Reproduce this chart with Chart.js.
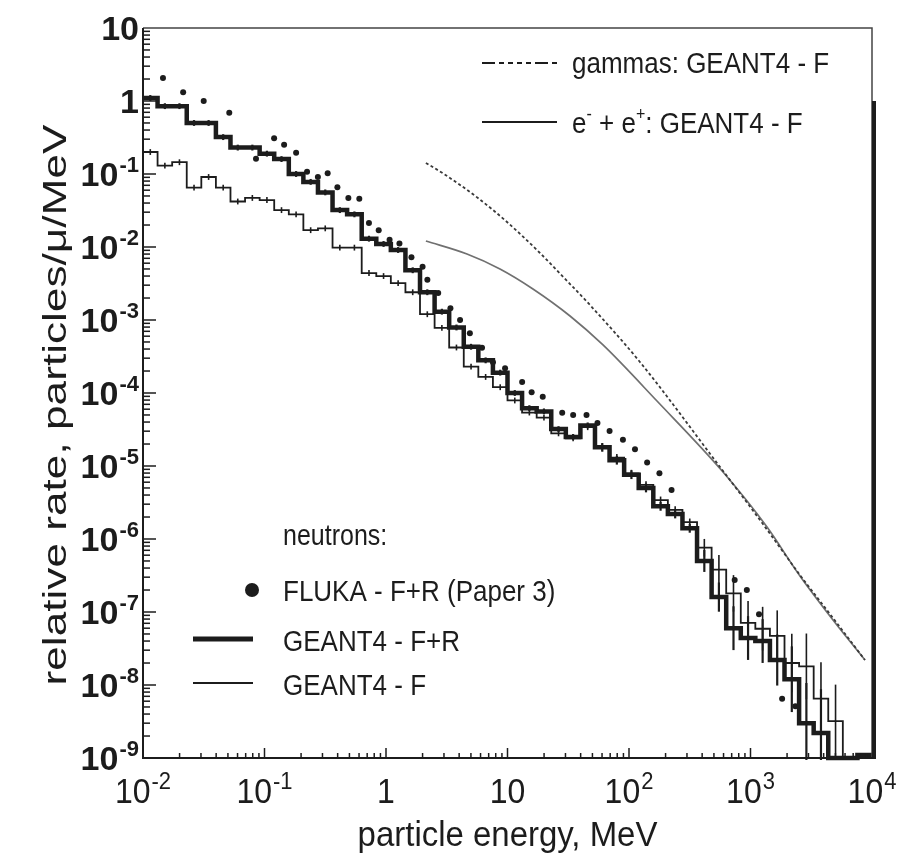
<!DOCTYPE html>
<html>
<head>
<meta charset="utf-8">
<script src="https://cdn.jsdelivr.net/npm/chart.js@4.4.1/dist/chart.umd.min.js"></script>
<style>
  html, body { margin: 0; padding: 0; background: #fff; }
  #wrap { width: 908px; height: 855px; }
</style>
</head>
<body>
<div id="wrap"><canvas id="myChart" width="908" height="855"></canvas></div>
<script>
// bin edges of the neutron histograms (MeV)
const binEdges = [0.01, 0.01318, 0.01738, 0.02291, 0.03020, 0.03981, 0.05248, 0.06918, 0.09120, 0.1202,
    0.1585, 0.2089, 0.2754, 0.3631, 0.4786, 0.6310, 0.8318, 1.096, 1.445, 1.905,
    2.512, 3.311, 4.365, 5.754, 7.586, 10, 13.18, 17.38, 22.91, 30.20,
    39.81, 52.48, 69.18, 91.20, 120.2, 158.5, 208.9, 275.4, 363.1, 478.6,
    631.0, 831.8, 1096, 1445, 1905, 2512, 3311, 4365, 5754, 7586, 10000];

// neutrons, GEANT4 - F+R (thick)
const geantFR = [1.10, 0.85, 0.85, 0.50, 0.50, 0.32, 0.23, 0.23, 0.19, 0.16,
    0.10, 0.078, 0.056, 0.032, 0.028, 0.013, 0.011, 0.0091, 0.0048, 0.0024,
    0.0013, 0.00079, 0.00043, 0.00028, 0.00019, 0.00010, 6.2e-5, 5.6e-5, 3.2e-5, 2.5e-5,
    3.6e-5, 1.8e-5, 1.2e-5, 7.6e-6, 5.0e-6, 2.8e-6, 2.2e-6, 1.4e-6, 5.0e-7, 1.6e-7,
    6.0e-8, 4.4e-8, 4.0e-8, 2.2e-8, 1.2e-8, 3.0e-9, 2.2e-9, 1.0e-9, 1.0e-9, 1.1e-9];
// error bar half length, decades
const errFR = [0.04, 0.04, 0.04, 0.04, 0.04, 0.04, 0.04, 0.04, 0.04, 0.04,
    0.04, 0.04, 0.04, 0.04, 0.04, 0.04, 0.04, 0.04, 0.04, 0.04,
    0.04, 0.04, 0.04, 0.04, 0.04, 0.04, 0.04, 0.04, 0.04, 0.04,
    0.04, 0.06, 0.06, 0.06, 0.06, 0.06, 0.06, 0.06, 0.15, 0.2,
    0.3, 0.3, 0.3, 0.35, 0.45, 0.55, 0.6, 0, 0, 0];

// neutrons, GEANT4 - F (thin)
const geantF = [0.20, 0.13, 0.145, 0.065, 0.091, 0.065, 0.042, 0.047, 0.044, 0.032,
    0.028, 0.017, 0.018, 0.0098, 0.0098, 0.0044, 0.0040, 0.0032, 0.0024, 0.0012,
    0.00078, 0.00042, 0.00023, 0.000166, 0.00012, 7.9e-5, 5.4e-5, 4.6e-5, 2.8e-5, 2.4e-5,
    3.4e-5, 1.8e-5, 1.3e-5, 7.9e-6, 5.5e-6, 3.4e-6, 2.5e-6, 1.7e-6, 7.6e-7, 3.8e-7,
    1.8e-7, 7.1e-8, 5.9e-8, 4.7e-8, 2.0e-8, 1.8e-8, 6.5e-9, 3.2e-9, 1e-10, 1e-10];
const errF = [0.04, 0.04, 0.04, 0.04, 0.04, 0.04, 0.04, 0.04, 0.04, 0.04,
    0.04, 0.04, 0.04, 0.04, 0.04, 0.04, 0.04, 0.04, 0.04, 0.04,
    0.04, 0.04, 0.04, 0.04, 0.04, 0.04, 0.04, 0.04, 0.04, 0.04,
    0.04, 0.05, 0.05, 0.05, 0.05, 0.05, 0.05, 0.05, 0.12, 0.2,
    0.25, 0.3, 0.3, 0.35, 0.4, 0.45, 0.5, 0.5, 0, 0];

// neutrons, FLUKA - F+R (Paper 3)
const flukaE = [0.0146, 0.0214, 0.0316, 0.0513, 0.0851, 0.120, 0.145, 0.182, 0.224, 0.275,
    0.331, 0.398, 0.490, 0.603, 0.724, 0.871, 1.07, 1.29, 1.62, 2.0,
    2.19, 2.69, 3.39, 4.07, 4.9, 6.17, 7.59, 9.55, 13.2, 15.8,
    19.5, 28.2, 34.7, 44.7, 55.0, 69.2, 89.1, 112, 141, 178,
    224, 741, 933, 1175, 1820, 2340];
const flukaRate = [2.07, 1.32, 1.0, 0.69, 0.162, 0.309, 0.251, 0.195, 0.107, 0.0912,
    0.102, 0.0661, 0.0468, 0.0457, 0.0214, 0.0170, 0.0126, 0.0112, 0.00724, 0.00537,
    0.00355, 0.00234, 0.00145, 0.0010, 0.00066, 0.000417, 0.000263, 0.000219, 0.000141, 0.000102,
    8.91e-5, 5.37e-5, 5.01e-5, 5.01e-5, 3.89e-5, 3.02e-5, 2.29e-5, 1.70e-5, 1.12e-5, 7.94e-6,
    4.68e-6, 2.75e-7, 2.0e-7, 9.3e-8, 6.5e-9, 5.1e-9];

// gammas: GEANT4 - F
const gammaE = [2.13, 3.0, 5.71, 9.91, 18.5, 31.5, 47.8, 123, 530, 1197, 2553, 4775, 8750];
const gammaRate = [0.1416, 0.100, 0.0469, 0.0220, 0.00828, 0.00332, 0.00160, 0.000266, 1.10e-5, 1.82e-6, 3.21e-7, 8.28e-8, 2.20e-8];

// e- + e+: GEANT4 - F
const elecE = [2.13, 4.64, 8.67, 16.2, 32.7, 61.1, 170, 594, 1368, 2553, 4775, 8750];
const elecRate = [0.01208, 0.00801, 0.00500, 0.00266, 0.001135, 0.000455, 7.76e-5, 8.28e-6, 1.46e-6, 3.11e-7, 7.76e-8, 2.20e-8];

// tick labels
const xTicks = [0.01, 0.1, 1, 10, 100, 1000, 10000];
const xTickLabels = [['10', '-2'], ['10', '-1'], ['1', ''], ['10', ''], ['10', '2'], ['10', '3'], ['10', '4']];
const yTicks = [10, 1, 0.1, 0.01, 1e-3, 1e-4, 1e-5, 1e-6, 1e-7, 1e-8, 1e-9];
const yTickLabels = [['10', ''], ['1', ''], ['10', '-1'], ['10', '-2'], ['10', '-3'], ['10', '-4'], ['10', '-5'], ['10', '-6'], ['10', '-7'], ['10', '-8'], ['10', '-9']];

const FONT = '"Liberation Sans", Arial, Helvetica, sans-serif';
const INK = '#1c1c1c';

function toPoints(xs, ys) {
    return xs.map((x, i) => ({ x: x, y: ys[i] }));
}

// histogram as steps: each bin gives two points
function stepPoints(vals) {
    const pts = [];
    vals.forEach((v, i) => {
        pts.push({ x: binEdges[i], y: v });
        pts.push({ x: binEdges[i + 1], y: v });
    });
    return pts;
}

// "10" with a raised exponent
function drawPow(ctx, base, exp, x, cy, size, weight, align, sy, er) {
    ctx.save();
    const bf = weight + ' ' + size + 'px ' + FONT;
    const esz = Math.round(size * er);
    const ef = weight + ' ' + esz + 'px ' + FONT;
    ctx.font = bf;
    const wb = ctx.measureText(base).width;
    ctx.font = ef;
    const we = exp ? ctx.measureText(exp).width + 1 : 0;
    const total = wb + we;
    let x0 = x;
    if (align === 'right') x0 = x - total;
    if (align === 'center') x0 = x - total / 2;
    ctx.translate(0, cy);
    ctx.scale(1, sy);
    ctx.fillStyle = INK;
    ctx.textAlign = 'left';
    ctx.textBaseline = 'alphabetic';
    ctx.font = bf;
    ctx.fillText(base, x0, 0.358 * size);
    if (exp) {
        ctx.font = ef;
        ctx.fillText(exp, x0 + wb + 1, -0.06 * size);
    }
    ctx.restore();
}

// text made of normal and superscript parts
function drawRich(ctx, parts, x, cy, size, sy) {
    ctx.save();
    ctx.translate(x, cy);
    ctx.scale(1, sy);
    ctx.fillStyle = INK;
    ctx.textAlign = 'left';
    ctx.textBaseline = 'alphabetic';
    let cx = 0;
    parts.forEach(p => {
        const s = p.sup ? Math.round(size * 0.62) : size;
        ctx.font = s + 'px ' + FONT;
        ctx.fillText(p.t, cx, p.sup ? -0.08 * size : 0.358 * size);
        cx += ctx.measureText(p.t).width;
    });
    ctx.restore();
}

const framePlugin = {
    id: 'frame',
    afterDatasetsDraw(chart) {
        const ctx = chart.ctx;
        const a = chart.chartArea;
        const xs = chart.scales.x;
        const ys = chart.scales.y;

        // error bars
        ctx.save();
        ctx.beginPath();
        ctx.rect(a.left, a.top, a.right - a.left, a.bottom - a.top + 2);
        ctx.clip();
        ctx.strokeStyle = INK;
        [[geantF, errF, 1.6], [geantFR, errFR, 2.2]].forEach(([vals, errs, w]) => {
            ctx.lineWidth = w;
            vals.forEach((v, i) => {
                if (!errs[i]) return;
                const xc = Math.sqrt(binEdges[i] * binEdges[i + 1]);
                const px = xs.getPixelForValue(xc);
                const f = Math.pow(10, errs[i]);
                ctx.beginPath();
                ctx.moveTo(px, ys.getPixelForValue(v / f));
                ctx.lineTo(px, ys.getPixelForValue(v * f));
                ctx.stroke();
            });
        });
        ctx.restore();

        ctx.save();
        // frame
        ctx.strokeStyle = '#444';
        ctx.lineWidth = 1.5;
        ctx.beginPath();
        ctx.moveTo(a.left, a.top);
        ctx.lineTo(a.right, a.top);
        ctx.lineTo(a.right, a.bottom);
        ctx.stroke();
        ctx.strokeStyle = INK;
        ctx.lineWidth = 4;
        ctx.beginPath();
        ctx.moveTo(a.right + 2, ys.getPixelForValue(1));
        ctx.lineTo(a.right + 2, a.bottom + 1);
        ctx.stroke();
        ctx.lineWidth = 2;
        ctx.beginPath();
        ctx.moveTo(a.left, a.top);
        ctx.lineTo(a.left, a.bottom);
        ctx.lineTo(a.right, a.bottom);
        ctx.stroke();

        // inward ticks
        ctx.lineWidth = 1.5;
        for (let d = -9; d <= 0; d++) {
            for (let m = 1; m <= 9; m++) {
                const v = m * Math.pow(10, d);
                const py = ys.getPixelForValue(v);
                const len = m === 1 ? 13 : 7;
                ctx.beginPath();
                ctx.moveTo(a.left, py);
                ctx.lineTo(a.left + len, py);
                ctx.stroke();
            }
        }
        for (let d = -2; d <= 3; d++) {
            for (let m = 1; m <= 9; m++) {
                const v = m * Math.pow(10, d);
                const px = xs.getPixelForValue(v);
                const len = m === 1 ? 10 : 5;
                ctx.beginPath();
                ctx.moveTo(px, a.bottom);
                ctx.lineTo(px, a.bottom - len);
                ctx.stroke();
            }
        }
        ctx.restore();

        // tick labels
        yTicks.forEach((v, i) => {
            drawPow(ctx, yTickLabels[i][0], yTickLabels[i][1], a.left - 4, ys.getPixelForValue(v), 34, 'bold', 'right', 1.0, 0.66);
        });
        xTicks.forEach((v, i) => {
            drawPow(ctx, xTickLabels[i][0], xTickLabels[i][1], xs.getPixelForValue(v), a.bottom + 33, 32, 'normal', 'center', 1.08, 0.7);
        });

        // axis titles
        ctx.save();
        ctx.fillStyle = INK;
        ctx.font = '32px ' + FONT;
        ctx.textAlign = 'center';
        ctx.textBaseline = 'alphabetic';
        ctx.save();
        ctx.translate((a.left + a.right) / 2, a.bottom + 88);
        ctx.scale(1.03, 1.12);
        ctx.fillText('particle energy, MeV', 0, 0);
        ctx.restore();
        ctx.save();
        ctx.translate(66, 405);
        ctx.rotate(-Math.PI / 2);
        ctx.scale(1.3, 1.0);
        ctx.font = '34px ' + FONT;
        ctx.fillText('relative rate, particles/\u03bc/MeV', 0, 0);
        ctx.restore();
        ctx.restore();

        // legends
        ctx.save();
        ctx.strokeStyle = INK;
        ctx.lineWidth = 2;
        ctx.setLineDash([13, 4, 5, 4, 5, 4, 5, 4, 5, 4]);
        ctx.beginPath();
        ctx.moveTo(482, 63);
        ctx.lineTo(557, 63);
        ctx.stroke();
        ctx.setLineDash([]);
        ctx.beginPath();
        ctx.moveTo(482, 122);
        ctx.lineTo(557, 122);
        ctx.stroke();
        ctx.lineWidth = 5;
        ctx.beginPath();
        ctx.moveTo(193, 639);
        ctx.lineTo(253, 639);
        ctx.stroke();
        ctx.lineWidth = 2;
        ctx.beginPath();
        ctx.moveTo(193, 683);
        ctx.lineTo(253, 683);
        ctx.stroke();
        ctx.fillStyle = INK;
        ctx.beginPath();
        ctx.arc(252, 590, 7, 0, Math.PI * 2);
        ctx.fill();
        ctx.restore();

        drawRich(ctx, [{ t: 'gammas: GEANT4 - F' }], 572, 62, 26, 1.15);
        drawRich(ctx, [{ t: 'e' }, { t: '-', sup: true }, { t: ' + e' }, { t: '+', sup: true }, { t: ': GEANT4 - F' }], 572, 122, 26, 1.15);
        drawRich(ctx, [{ t: 'neutrons:' }], 283, 535, 25, 1.15);
        drawRich(ctx, [{ t: 'FLUKA - F+R (Paper 3)' }], 283, 590, 26, 1.15);
        drawRich(ctx, [{ t: 'GEANT4 - F+R' }], 283, 640, 26, 1.15);
        drawRich(ctx, [{ t: 'GEANT4 - F' }], 283, 684, 26, 1.15);
    }
};

const ctx = document.getElementById('myChart');

new Chart(ctx, {
    type: 'line',
    data: {
        datasets: [{
            label: 'gammas: GEANT4 - F',
            data: toPoints(gammaE, gammaRate),
            borderColor: '#3a3a3a',
            borderWidth: 1.8,
            borderDash: [3, 2.5],
            pointRadius: 0,
            cubicInterpolationMode: 'monotone'
        }, {
            label: 'e- + e+: GEANT4 - F',
            data: toPoints(elecE, elecRate),
            borderColor: '#707070',
            borderWidth: 1.7,
            pointRadius: 0,
            cubicInterpolationMode: 'monotone'
        }, {
            label: 'GEANT4 - F',
            data: stepPoints(geantF),
            borderColor: INK,
            borderWidth: 1.8,
            pointRadius: 0,
            borderJoinStyle: 'miter',
            clip: { left: 0, top: 0, right: 0, bottom: 1 }
        }, {
            label: 'GEANT4 - F+R',
            data: stepPoints(geantFR),
            borderColor: INK,
            borderWidth: 4.5,
            pointRadius: 0,
            borderJoinStyle: 'miter',
            clip: { left: 0, top: 0, right: 2, bottom: 3 }
        }, {
            label: 'FLUKA - F+R (Paper 3)',
            data: toPoints(flukaE, flukaRate),
            showLine: false,
            pointRadius: 3,
            pointBackgroundColor: INK,
            pointBorderWidth: 0
        }]
    },
    options: {
        responsive: false,
        animation: false,
        layout: { padding: { left: 143, right: 36, top: 28, bottom: 97 } },
        scales: {
            x: { type: 'logarithmic', min: 0.01, max: 10000, display: false },
            y: { type: 'logarithmic', min: 1e-9, max: 10, display: false }
        },
        plugins: {
            legend: { display: false },
            tooltip: { enabled: false }
        }
    },
    plugins: [framePlugin]
});
</script>
</body>
</html>
